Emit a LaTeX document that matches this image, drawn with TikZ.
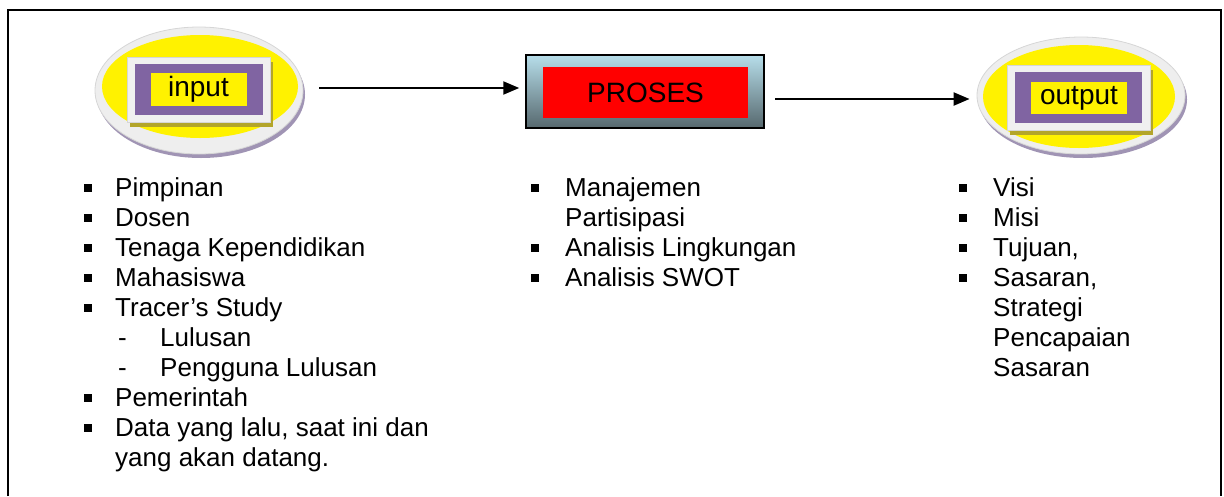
\documentclass[tikz,border=0pt]{standalone}
\usepackage{fontspec}
\setmainfont{Liberation Sans}
\usetikzlibrary{arrows.meta,shapes.geometric}
\definecolor{purp}{HTML}{8064A2}
\definecolor{ringgrey}{HTML}{EEEEEE}
\definecolor{ringedge}{HTML}{D6D6D6}
\definecolor{elshadow}{HTML}{A094B4}
\definecolor{boxgrey}{HTML}{F0F0F0}
\definecolor{olive}{HTML}{B3A52A}
\definecolor{skytop}{HTML}{B7DEEA}
\definecolor{slatebot}{HTML}{56686E}
\newcommand{\listfont}{\fontsize{26}{30}\selectfont}
\newcommand{\labfont}{\fontsize{28}{32}\selectfont}
\tikzset{
  ring/.style={ellipse, fill=ringgrey, draw=ringedge, line width=0.8pt, inner sep=0pt},
  greybox/.style={rectangle, fill=boxgrey, draw=ringedge, line width=0.5pt, inner sep=0pt},
  purpbox/.style={rectangle, fill=purp, inner sep=0pt},
  label/.style={rectangle, fill=yellow, inner sep=0pt, font=\labfont, text=black},
  itemtext/.style={anchor=base west, inner sep=0pt, font=\listfont},
  sqbullet/.style={rectangle, fill=black, minimum size=7.5pt, inner sep=0pt},
  dashmark/.style={anchor=base west, inner sep=0pt, font=\listfont},
  flow/.style={line width=2.2pt, -{Triangle[length=16pt,width=13pt]}}
}
\begin{document}
\begin{tikzpicture}[x=1pt,y=-1pt]
\useasboundingbox (0,0) rectangle (1224,496);
% frame
\draw[line width=2.5pt] (8,496) -- (8,10) -- (1221,10) -- (1221,496);

% ---------- input ellipse ----------
\fill[elshadow] (201,94.5) ellipse [x radius=104, y radius=63.5];
\node[ring, minimum width=208pt, minimum height=127pt] (inell) at (199,90.5) {};
\fill[yellow] (200,86.5) ellipse [x radius=98, y radius=51.5];
\node[rectangle, fill=olive, minimum width=143pt, minimum height=65pt, inner sep=0pt] at (201.5,94.5) {};
\node[greybox, minimum width=143pt, minimum height=65pt] (ingrey) at (198.5,89.5) {};
\node[purpbox, minimum width=128pt, minimum height=51pt] at (198.5,89.5) {};
\node[label, minimum width=96pt, minimum height=33pt] (inlab) at (198.5,89.5) {input};

% ---------- proses ----------
\node[rectangle, draw=black, line width=1.5pt, top color=skytop, bottom color=slatebot,
      minimum width=238pt, minimum height=73pt, inner sep=0pt] (proses) at (645,91.5) {};
\node[rectangle, fill=red, minimum width=205pt, minimum height=51pt, inner sep=0pt,
      font=\labfont] (proseslab) at (645.5,92.5) {PROSES};

% ---------- output ellipse ----------
\fill[elshadow] (1083,99.5) ellipse [x radius=104, y radius=58.5];
\node[ring, minimum width=208pt, minimum height=117pt] (outell) at (1081,95.5) {};
\fill[yellow] (1079,96.5) ellipse [x radius=96, y radius=51.5];
\node[rectangle, fill=olive, minimum width=143pt, minimum height=65pt, inner sep=0pt] at (1081.5,102.5) {};
\node[greybox, minimum width=143pt, minimum height=65pt] (outgrey) at (1078.5,97.5) {};
\node[purpbox, minimum width=127pt, minimum height=51pt] at (1078.5,97.5) {};
\node[label, minimum width=96pt, minimum height=32pt] (outlab) at (1079,98) {output};

% ---------- connectors ----------
\coordinate (a1start) at (319,88);
\coordinate (a2start) at (775,99);
\draw[flow, shorten >=6pt] (a1start) -- (a1start -| proses.west);
\draw[flow, shorten >=7pt] (a2start) -- (a2start -| outell.west);

% ---------- left list ----------
\foreach \txt/\kind [count=\i from 0] in {
  Pimpinan/b, Dosen/b, Tenaga Kependidikan/b, Mahasiswa/b, Tracer’s Study/b,
  Lulusan/d, Pengguna Lulusan/d, Pemerintah/b, {Data yang lalu, saat ini dan}/b,
  yang akan datang./n} {
  \pgfmathsetmacro{\yb}{196+30*\i}
  \if d\kind
    \node[dashmark] (ld\i) at (118,\yb) {-};
    \node[itemtext] (lt\i) at (160,\yb) {\txt};
  \else
    \node[itemtext] (lt\i) at (115,\yb) {\txt};
  \fi
  \if b\kind
    \node[sqbullet] (lb\i) at (88,\yb-8) {};
  \fi
}

% ---------- middle list ----------
\foreach \txt/\kind [count=\i from 0] in {
  Manajemen/b, Partisipasi/n, Analisis Lingkungan/b, Analisis SWOT/b} {
  \pgfmathsetmacro{\yb}{196+30*\i}
  \node[itemtext] (mt\i) at (565,\yb) {\txt};
  \if b\kind
    \node[sqbullet] (mb\i) at (535,\yb-8) {};
  \fi
}

% ---------- right list ----------
\foreach \txt/\kind [count=\i from 0] in {
  Visi/b, Misi/b, {Tujuan,}/b, {Sasaran,}/b, Strategi/n, Pencapaian/n, Sasaran/n} {
  \pgfmathsetmacro{\yb}{196+30*\i}
  \node[itemtext] (rt\i) at (993,\yb) {\txt};
  \if b\kind
    \node[sqbullet] (rb\i) at (963,\yb-8) {};
  \fi
}
\end{tikzpicture}
\end{document}
